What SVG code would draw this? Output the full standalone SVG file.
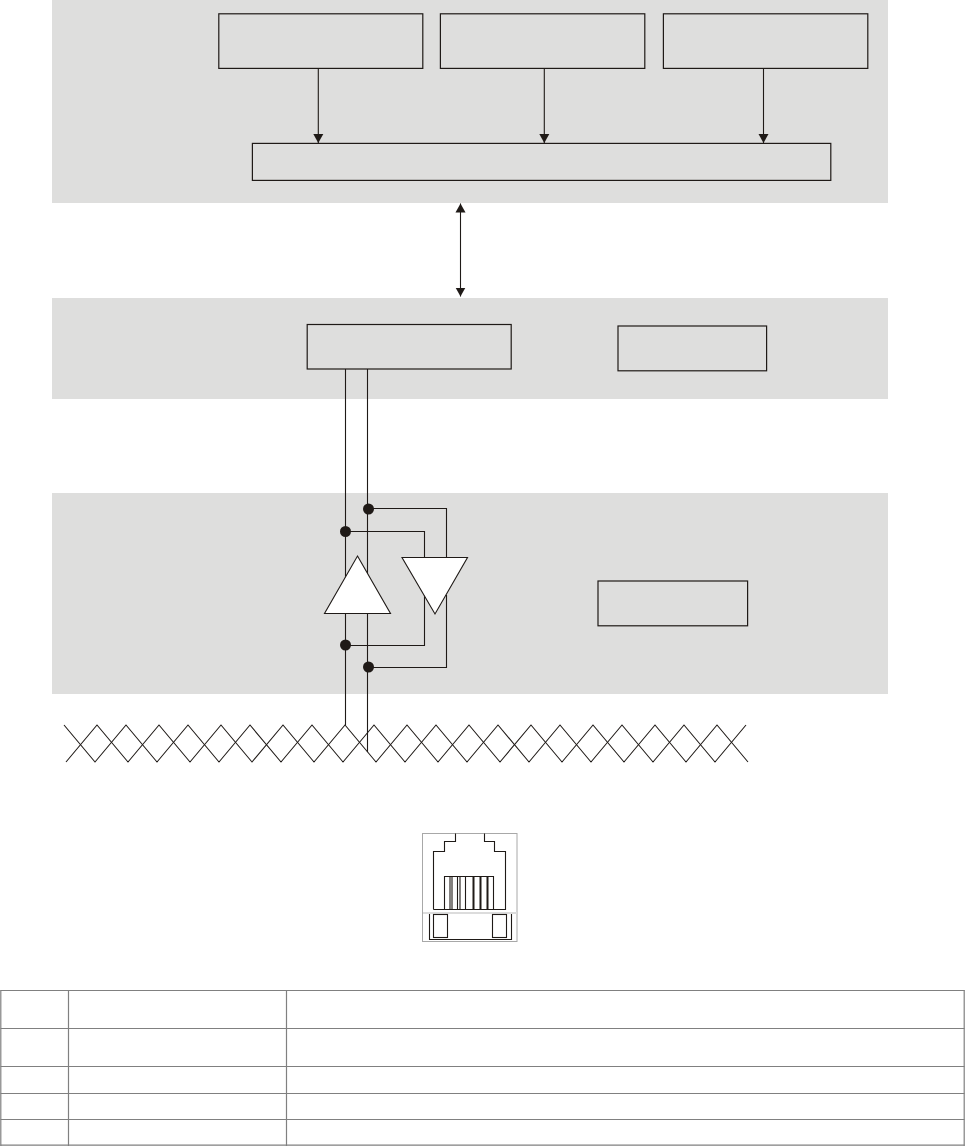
<svg xmlns="http://www.w3.org/2000/svg" width="965" height="1146" viewBox="0 0 965 1146">
<style>
.panel{fill:#dededd;stroke:none}
.box{fill:none;stroke:#1f1a17;stroke-width:1.200}
.wire{fill:none;stroke:#1f1a17;stroke-width:1.100}
.tri{fill:#fff;stroke:#1f1a17;stroke-width:1.100;stroke-linejoin:miter}
.dot{fill:#1f1a17;stroke:none}
.grid{fill:none;stroke:#808080;stroke-width:1.200}
.jack{fill:none;stroke:#1f1a17;stroke-width:1.100}
.shell{fill:none;stroke:#a8a8a8;stroke-width:1}
</style>
<defs>
<marker id="ah" markerUnits="userSpaceOnUse" markerWidth="10" markerHeight="11" refX="9" refY="5.500" orient="auto-start-reverse"><path d="M0 0.500L9 5.500L0 10.500Z" fill="#1f1a17"/></marker>
</defs>
<rect width="965" height="1146" fill="#fff"/>
<g id="panels">
<rect class="panel" x="52" y="0" width="836" height="203"/>
<rect class="panel" x="52" y="298" width="836" height="101"/>
<rect class="panel" x="52" y="493" width="836" height="201"/>
</g>
<g id="connectors">
<path class="wire" d="M318.300 68.500V143" marker-end="url(#ah)"/>
<path class="wire" d="M544.300 68.500V143" marker-end="url(#ah)"/>
<path class="wire" d="M763.500 68.500V143" marker-end="url(#ah)"/>
<path class="wire" d="M460.500 203.500V296.500" marker-start="url(#ah)" marker-end="url(#ah)"/>
<path class="wire" d="M345.500 369V725"/>
<path class="wire" d="M367.500 369V752"/>
<path class="wire" d="M368 508.500H446.500V557"/>
<path class="wire" d="M345 531.500H424.500V557"/>
<path class="wire" d="M424.500 595V645.500H345"/>
<path class="wire" d="M446.500 595V667.500H368"/>
<path class="wire" d="M64 725L95 762L126 725L157 762L188 725L219 762L250 725L281 762L312 725L343 762L374 725L405 762L436 725L467 762L498 725L529 762L560 725L591 762L622 725L653 762L684 725L715 762L746 725"/>
<path class="wire" d="M66 762L97 725L128 762L159 725L190 762L221 725L252 762L283 725L314 762L345 725L376 762L407 725L438 762L469 725L500 762L531 725L562 762L593 725L624 762L655 725L686 762L717 725L748 762"/>
</g>
<g id="box-1"><rect class="box" x="218.800" y="13.800" width="204" height="54.600"/></g>
<g id="box-2"><rect class="box" x="440.400" y="13.800" width="204.400" height="54.600"/></g>
<g id="box-3"><rect class="box" x="663.400" y="13.800" width="204.400" height="54.600"/></g>
<g id="box-bus"><rect class="box" x="252.400" y="143.400" width="578.400" height="37"/></g>
<g id="box-uart"><rect class="box" x="307.200" y="324.500" width="204" height="44.500"/></g>
<g id="box-right-1"><rect class="box" x="618" y="326" width="148.600" height="44.800"/></g>
<g id="box-right-2"><rect class="box" x="598" y="581" width="149.600" height="44.800"/></g>
<g id="driver-up"><path class="tri" d="M357.500 556L390.500 613.500H324.500Z"/></g>
<g id="driver-down"><path class="tri" d="M402 557.500H467.500L435 614Z"/></g>
<g id="junctions">
<circle class="dot" cx="368.500" cy="509" r="5.500"/>
<circle class="dot" cx="345.500" cy="531.500" r="5.500"/>
<circle class="dot" cx="345.500" cy="645" r="5.500"/>
<circle class="dot" cx="368.500" cy="667" r="5.500"/>
</g>
<g id="jack">
<rect class="shell" x="422.500" y="833.500" width="94.500" height="108"/>
<path d="M423 913H517" stroke="#dcdcdc" stroke-width="2" fill="none"/>
<path class="jack" d="M433.500 909.500V851.500H444.500V841.500H455.500V833.500M484.500 833.500V841.500H494.500V851.500H505.500V909.500H433.500"/>
<path class="jack" d="M444.500 909V876.500H493.500V909"/>
<path class="jack" d="M450 876V909M452 876V909M457.500 876V909M460 876V909M465.500 876V909"/>
<path d="M473.500 876V909M480.500 876V909M487.500 876V909" stroke="#1f1a17" stroke-width="2" fill="none"/>
<path class="jack" d="M429.500 914V939.500H511.500V914"/>
<rect class="jack" x="433.500" y="914.500" width="14" height="23"/>
<rect class="jack" x="492.500" y="914.500" width="14" height="23"/>
</g>
<g id="table">
<path class="grid" d="M0.500 990.500H964.500M0.500 1028.500H964.500M0.500 1066.500H964.500M0.500 1093.500H964.500M0.500 1119.500H964.500M0.500 1145.200H964.500"/>
<path class="grid" d="M0.800 990V1146M68.500 990V1146M286.500 990V1146M964.200 990V1146"/>
</g>
</svg>
